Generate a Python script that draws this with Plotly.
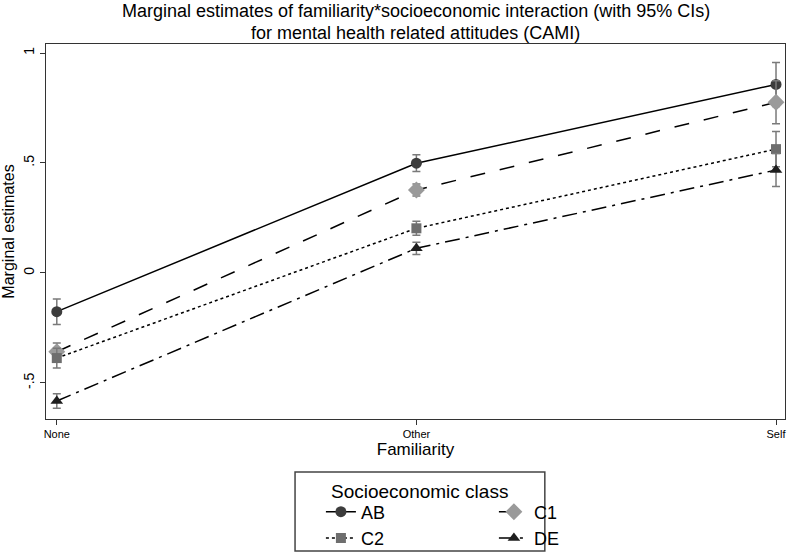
import plotly.graph_objects as go

familiarity = ["None", "Other", "Self"]
classes = ["AB", "C1", "C2", "DE"]

# marginal estimates per class (None, Other, Self)
est_ab = [-0.176, 0.499, 0.857]
est_c1 = [-0.358, 0.377, 0.776]
est_c2 = [-0.387, 0.203, 0.563]
est_de = [-0.582, 0.112, 0.468]

# half-width of 95% CI
ci_ab = [0.058, 0.038, 0.100]
ci_c1 = [0.040, 0.027, 0.098]
ci_c2 = [0.045, 0.032, 0.080]
ci_de = [0.033, 0.028, 0.075]

title_lines = [
    "Marginal estimates of familiarity*socioeconomic interaction (with 95% CIs)",
    "for mental health related attitudes (CAMI)",
]

styles = {
    "AB": dict(dash="solid", symbol="circle", color="#3c3c3c", size=11),
    "C1": dict(dash="longdash", symbol="diamond", color="#9a9a9a", size=13),
    "C2": dict(dash="dot", symbol="square", color="#6e6e6e", size=10),
    "DE": dict(dash="longdashdot", symbol="triangle-up", color="#1e1e1e", size=11),
}
legend_of = {"AB": "legend", "C1": "legend", "C2": "legend2", "DE": "legend2"}

fig = go.Figure()
for name, est, ci in zip(classes, [est_ab, est_c1, est_c2, est_de],
                         [ci_ab, ci_c1, ci_c2, ci_de]):
    s = styles[name]
    fig.add_trace(go.Scatter(
        x=familiarity, y=est, name=name, mode="lines+markers",
        line=dict(color="black", width=1.5, dash=s["dash"]),
        marker=dict(symbol=s["symbol"], size=s["size"], color=s["color"]),
        error_y=dict(type="data", array=ci, color="#7a7a7a", thickness=1.5, width=4),
        legend=legend_of[name],
    ))

fig.update_layout(
    width=790, height=554,
    margin=dict(l=46, r=5, t=44, b=135, autoexpand=False),
    paper_bgcolor="white", plot_bgcolor="white",
    font=dict(family="Liberation Sans, Arial, sans-serif", color="black"),
    xaxis=dict(
        range=[-0.03, 2.025], showline=True, linecolor="#333333", mirror=True,
        ticks="outside", ticklen=5, tickcolor="#333333", showgrid=False,
        tickfont=dict(size=11), zeroline=False,
        title=dict(text="Familiarity", font=dict(size=17), standoff=0),
    ),
    yaxis=dict(
        range=[-0.664, 1.041], showline=True, linecolor="#333333", mirror=True,
        ticks="outside", ticklen=5, tickcolor="#333333", showgrid=False,
        tickvals=[-0.5, 0, 0.5, 1], ticktext=["-.5", "0", ".5", "1"],
        tickangle=-90, tickfont=dict(size=14), zeroline=False,
        title=dict(text="Marginal estimates", font=dict(size=16), standoff=2),
    ),
    legend=dict(orientation="h", x=0.372, xanchor="left", y=-0.248, yanchor="middle",
                entrywidth=128, font=dict(size=18), bgcolor="rgba(0,0,0,0)"),
    legend2=dict(orientation="h", x=0.372, xanchor="left", y=-0.318, yanchor="middle",
                 entrywidth=128, font=dict(size=18), bgcolor="rgba(0,0,0,0)"),
)

# chart title, one annotation per line to keep the tight line spacing
for line, ypos in zip(title_lines, [1.088, 1.03]):
    fig.add_annotation(
        text=line, xref="paper", yref="paper", x=0.5, y=ypos,
        xanchor="center", yanchor="middle", showarrow=False, font=dict(size=18),
    )

# legend frame and title
fig.add_shape(type="rect", xref="paper", yref="paper",
              x0=0.337, x1=0.675, y0=-0.352, y1=-0.141,
              line=dict(color="#444444", width=1.5))
fig.add_annotation(text="Socioeconomic class", xref="paper", yref="paper",
                   x=0.506, y=-0.192, xanchor="center", yanchor="middle",
                   showarrow=False, font=dict(size=19))

fig.write_html("out.html", config={"displayModeBar": False},
               post_script="document.body.style.margin='0';")
